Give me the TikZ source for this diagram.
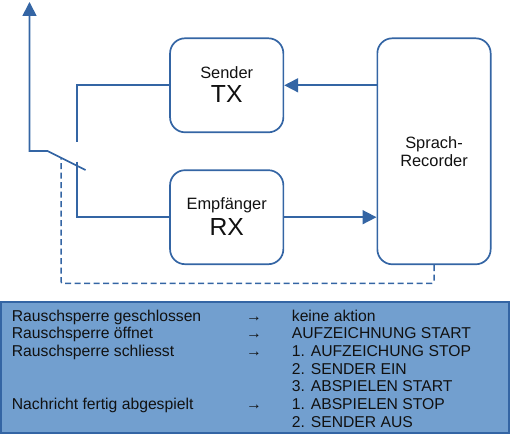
\documentclass[tikz,border=0pt]{standalone}
\usepackage{fontspec}
\setmainfont{Liberation Sans}
\usetikzlibrary{arrows.meta}
\definecolor{lineblue}{HTML}{3465A4}
\definecolor{fillblue}{HTML}{729FCF}
\definecolor{txt}{HTML}{111111}
\tikzset{
  conn/.style={draw=lineblue, line width=1.7pt},
  tip/.style={-{Triangle[length=14pt,width=14pt]}},
  blockbox/.style={draw=lineblue, line width=1.7pt, rounded corners=15pt, minimum width=113.3pt, inner sep=0pt},
  smalltxt/.style={font=\fontsize{16.4pt}{19pt}\selectfont, text=txt, inner sep=0pt, anchor=base},
  bigtxt/.style={font=\fontsize{24.7pt}{28pt}\selectfont, text=txt, inner sep=0pt, anchor=base},
  rowtxt/.style={font=\fontsize{15.7pt}{18pt}\selectfont, text=txt, inner sep=0pt, anchor=base west},
  arrtxt/.style={font=\fontsize{15.7pt}{18pt}\selectfont, text=txt, inner sep=0pt, anchor=base west},
}
\begin{document}
\begin{tikzpicture}[x=1pt,y=-1pt]
\useasboundingbox (0,0) rectangle (510,435);
% blocks
\node[blockbox, minimum height=94pt] (tx) at (226.7,85.3) {};
\node[blockbox, minimum height=94pt] (rx) at (226.7,217.2) {};
\node[blockbox, minimum height=226pt] (rec) at (434,151.3) {};
\node[smalltxt] (txlab) at (226.7,78.3) {Sender};
\node[bigtxt] (txbig) at (226.7,102.7) {TX};
\node[smalltxt] (rxlab) at (226.7,210) {Empfänger};
\node[bigtxt] (rxbig) at (226.7,235) {RX};
\node[smalltxt] (reclab1) at (434,148.3) {Sprach-};
\node[smalltxt] (reclab2) at (434,166.7) {Recorder};
% switch coordinates
\coordinate (swtx) at (76.7,141.7);
\coordinate (swrx) at (76.7,161.7);
\coordinate (swend) at (85.5,170);
\coordinate (swpivot) at (47.5,151);
\coordinate (swcorner) at (29.5,151);
\coordinate (antenna) at (29.5,2);
\coordinate (dashstart) at (61,157.75);
\coordinate (dashbottom) at (61,283.3);
% connectors
\draw[conn] (swtx) |- (tx.west);
\draw[conn] (swrx) |- (rx.west);
\draw[conn, tip] (swend) -- (swpivot) -- (swcorner) -- (antenna);
\draw[conn, tip] (rec.west |- tx.east) -- (tx.east);
\draw[conn, tip] (rx.east) -- (rx.east -| rec.west);
\draw[conn, line width=1.5pt, dash pattern=on 6pt off 3.5pt, rounded corners=2pt] (rec.south) -- (rec.south |- dashbottom) -- (dashbottom) -- (dashstart);
% table
\node[draw=lineblue, fill=fillblue, line width=1.4pt, minimum width=508pt, minimum height=131pt, inner sep=0pt] (table) at (255,367.5) {};
\node[rowtxt] (r1a) at (11.7,321) {Rauschsperre geschlossen};
\node[rowtxt] (r2a) at (11.7,338.7) {Rauschsperre öffnet};
\node[rowtxt] (r3a) at (11.7,356.4) {Rauschsperre schliesst};
\node[rowtxt] (r6a) at (11.7,409.5) {Nachricht fertig abgespielt};
\node[arrtxt] (r1b) at (246,321) {→};
\node[arrtxt] (r2b) at (246,338.7) {→};
\node[arrtxt] (r3b) at (246,356.4) {→};
\node[arrtxt] (r6b) at (246,409.5) {→};
\node[rowtxt] (r1c) at (291.7,321) {keine aktion};
\node[rowtxt] (r2c) at (291.7,338.7) {AUFZEICHNUNG START};
\node[rowtxt] (r3c) at (291.7,356.4) {1. AUFZEICHUNG STOP};
\node[rowtxt] (r4c) at (291.7,374.1) {2. SENDER EIN};
\node[rowtxt] (r5c) at (291.7,391.8) {3. ABSPIELEN START};
\node[rowtxt] (r6c) at (291.7,409.5) {1. ABSPIELEN STOP};
\node[rowtxt] (r7c) at (291.7,427.2) {2. SENDER AUS};
\end{tikzpicture}
\end{document}
